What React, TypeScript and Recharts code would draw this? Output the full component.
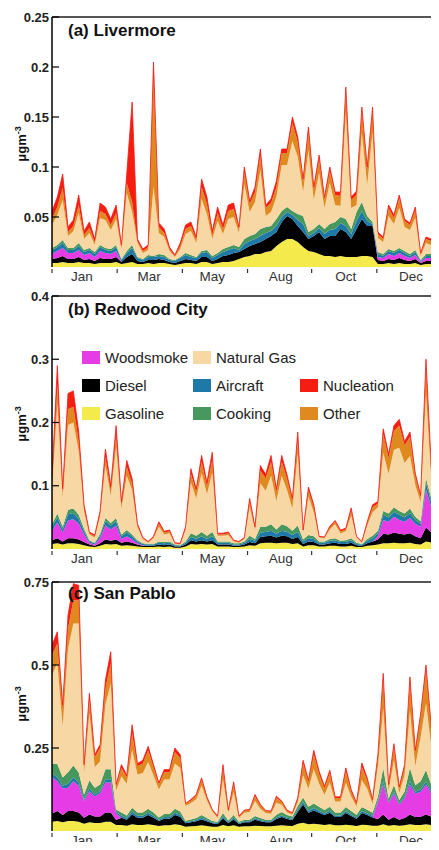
import { AreaChart, Area, XAxis, YAxis, ReferenceLine } from "recharts";

const FONT = '"Liberation Sans", Arial, Helvetica, sans-serif';

// day of year for every sample (5-day steps)
const DAYS = [0,5,10,15,20,25,30,35,40,45,50,55,60,65,70,75,80,85,90,95,100,105,110,115,120,125,130,135,140,145,150,155,160,165,170,175,180,185,190,195,200,205,210,215,220,225,230,235,240,245,250,255,260,265,270,275,280,285,290,295,300,305,310,315,320,325,330,335,340,345,350,355,360,365];

const MONTH_LABELS = ["Jan", "Mar", "May", "Aug", "Oct", "Dec"];
const MONTH_LABEL_DAYS = [28, 91, 150, 214, 275, 336];
const TICK_MARK_DAYS = [0, 61, 122, 183, 243, 304, 365];
const X_TICKS = [...TICK_MARK_DAYS, ...MONTH_LABEL_DAYS].sort((a, b) => a - b);

// stacked from the bottom up
const SOURCES = [
  { key: "gasoline", name: "Gasoline", color: "#f4ea4c" },
  { key: "diesel", name: "Diesel", color: "#000000" },
  { key: "woodsmoke", name: "Woodsmoke", color: "#e63ce6" },
  { key: "aircraft", name: "Aircraft", color: "#1f79a8" },
  { key: "cooking", name: "Cooking", color: "#46985f" },
  { key: "naturalGas", name: "Natural Gas", color: "#f7d7a3" },
  { key: "other", name: "Other", color: "#de8a1f" },
  { key: "nucleation", name: "Nucleation", color: "#f51d12" },
];

const LEGEND_ROWS = [
  ["woodsmoke", "naturalGas", null],
  ["diesel", "aircraft", "nucleation"],
  ["gasoline", "cooking", "other"],
];

// values in ng/m3 (axis shows ug/m3)
const A_TICKS = [50, 100, 150, 200, 250];
const B_TICKS = [100, 200, 300, 400];
const C_TICKS = [250, 500, 750];

// (a) Livermore
const A_GASOLINE = [4,4,5,4,4,5,4,4,3,4,4,4,5,
  3,4,5,3,3,4,3,4,4,3,2,3,4,4,3,5,5,3,4,5,5,6,
  8,10,11,13,13,15,16,21,25,28,28,25,20,16,15,13,11,11,10,11,10,10,10,11,11,10,
  3,3,4,3,4,3,3,4,2,3,3,4,3];
const A_DIESEL = [4,5,6,4,4,5,3,4,3,5,4,4,5,
  2,6,8,3,2,3,4,4,3,2,2,3,4,3,3,5,5,3,4,6,7,8,
  7,8,10,10,12,13,15,14,20,23,20,16,15,12,16,22,17,20,21,27,25,18,28,37,30,31,
  4,3,4,4,5,4,3,4,2,3,3,4,3];
const A_WOODSMOKE = [5,7,8,6,6,7,5,6,4,7,6,5,6,
  0,0,0,0,0,0,0,0,0,0,0,0,0,0,0,0,0,0,0,0,0,0,0,0,
  0,0,0,0,0,0,0,0,0,0,0,0,0,0,0,0,0,0,0,0,0,0,0,0,
  3,3,5,4,5,4,3,4,1,3,3,5,3];
const A_AIRCRAFT = [4,4,5,3,3,4,3,3,3,4,3,3,4,
  2,4,6,3,2,3,3,3,3,2,2,3,4,3,3,4,5,3,4,4,5,5,
  2,5,5,5,6,6,5,6,5,4,4,6,8,3,3,4,5,6,7,6,6,5,8,8,5,2,
  3,2,3,3,3,3,2,3,1,2,2,3,2];
const A_COOKING = [2,2,3,2,2,3,2,2,2,2,2,2,2,
  1,2,3,1,1,2,1,2,2,1,1,1,2,2,1,2,2,2,2,3,3,3,
  3,5,5,5,7,6,5,7,6,5,4,6,8,4,4,4,5,6,7,6,7,5,9,9,5,2,
  2,2,2,2,2,2,2,2,1,2,2,2,2];
const A_NATURAL_GAS = [23,30,40,12,17,30,11,15,7,27,28,19,26,
  10,58,33,14,6,5,69,21,18,8,3,8,19,24,14,52,36,17,32,15,28,28,
  14,55,24,32,59,11,14,22,46,42,70,57,24,82,29,51,21,41,17,11,106,21,7,69,31,90,
  14,12,33,27,40,24,24,32,4,11,9,44,20];
const A_OTHER = [6,8,12,4,5,8,4,5,3,7,6,5,6,
  2,10,10,2,2,3,110,6,4,2,1,3,5,5,3,12,10,4,8,5,8,8,
  4,12,8,10,15,8,9,10,12,12,18,15,10,18,10,14,8,12,10,10,22,8,10,22,14,22,
  4,3,8,6,10,6,5,8,2,4,4,10,5];
const A_NUCLEATION = [8,10,14,5,6,10,4,6,3,8,7,6,8,
  2,10,100,2,2,2,15,4,4,2,1,3,4,4,3,8,7,4,6,4,6,6,
  2,5,3,5,6,3,4,6,4,4,6,5,3,5,3,4,3,4,3,4,4,3,4,4,4,3,
  2,2,3,3,3,2,2,3,1,2,2,4,2];

// (b) Redwood City
const B_GASOLINE = [8,9,7,9,9,8,6,4,3,5,8,7,8,
  5,6,5,4,3,3,3,4,3,4,2,2,4,
  8,7,8,7,8,4,4,4,3,3,4,6,5,
  9,10,10,9,10,10,8,9,4,
  6,6,4,4,5,5,4,4,5,3,3,5,6,
  7,9,9,10,9,9,10,8,7,12,10,14,10];
const B_DIESEL = [6,8,5,8,8,7,5,3,2,4,7,6,7,
  5,6,5,3,2,2,2,3,3,3,2,2,3,
  6,5,6,5,6,3,3,3,2,2,3,5,4,
  10,10,11,9,11,10,8,10,4,
  6,5,3,3,4,5,4,4,5,3,2,4,6,
  8,15,14,16,15,14,15,12,10,22,16,28,18];
const B_WOODSMOKE = [15,25,14,28,30,25,12,3,2,8,22,18,22,
  6,8,5,2,1,0,0,0,0,0,0,0,0,
  0,0,0,0,0,0,0,0,0,0,0,0,0,0,0,0,0,0,0,0,0,0,0,0,0,0,0,0,0,0,0,0,0,0,0,
  5,22,20,25,22,20,24,20,18,60,40,80,50];
const B_AIRCRAFT = [6,8,5,10,10,8,5,2,2,4,7,6,7,
  4,6,5,3,2,2,2,3,3,3,2,1,3,
  5,4,6,4,6,3,3,3,2,2,3,5,4,
  7,7,8,6,8,7,6,8,4,
  5,5,3,3,4,4,3,3,4,2,2,4,5,
  5,8,7,8,8,7,8,6,5,10,8,12,8];
const B_COOKING = [4,6,4,7,7,6,4,2,1,3,5,4,5,
  3,4,3,2,1,1,1,2,2,2,1,1,2,
  6,5,7,5,7,2,2,2,2,2,2,5,3,
  9,8,10,7,10,9,7,10,3,
  5,4,2,2,3,3,2,3,3,2,1,3,4,
  4,6,6,7,6,6,7,5,4,8,6,10,6];
const B_NATURAL_GAS = [55,174,46,134,136,101,27,9,8,27,83,43,113,
  41,86,70,20,7,2,9,23,12,13,1,1,18,
  80,59,93,66,94,9,9,10,3,1,4,46,14,
  69,57,77,45,77,57,35,114,11,
  61,38,6,5,15,22,12,14,36,8,2,21,37,
  37,92,63,91,100,80,83,50,30,134,30,196,37];
const B_OTHER = [10,30,8,25,25,15,6,2,2,5,14,8,18,
  6,14,10,3,1,1,2,5,3,3,1,1,3,
  14,10,18,12,20,2,2,3,1,1,1,8,3,
  20,20,22,14,22,18,12,22,2,
  10,8,1,1,3,4,3,3,8,1,1,4,8,
  6,30,25,30,35,28,30,15,8,40,15,50,15];
const B_NUCLEATION = [10,30,6,25,25,15,5,2,2,4,12,8,15,
  5,10,8,3,1,1,1,3,2,2,1,1,2,
  8,5,10,6,12,2,2,2,1,1,1,5,2,
  8,6,10,5,10,6,4,12,2,
  5,4,1,1,2,2,2,2,4,1,1,2,4,
  3,8,6,8,10,6,8,4,3,14,5,20,6];

// (c) San Pablo
const C_GASOLINE = [28,30,26,30,30,28,22,26,24,24,28,28,18,
  18,16,20,18,18,20,18,15,17,17,20,18,13,14,15,17,15,13,
  13,18,14,17,13,14,14,16,15,14,14,16,17,16,15,22,25,20,22,20,18,20,17,17,19,17,15,19,18,16,
  16,20,16,18,16,17,20,18,18,20,18,20,18];
const C_DIESEL = [25,30,22,30,30,28,18,24,20,20,28,28,15,
  22,18,30,22,22,28,22,15,20,20,28,25,10,12,14,18,14,10,
  8,20,10,18,8,12,12,18,14,12,12,20,25,20,18,35,55,35,40,35,30,35,25,25,35,28,22,35,30,25,
  20,30,18,24,18,22,30,24,25,30,25,32,25];
const C_WOODSMOKE = [110,90,80,70,90,80,50,70,60,70,90,90,20,
  0,0,0,0,0,0,0,0,0,0,0,0,0,0,0,0,0,0,0,0,0,0,0,0,
  0,0,0,0,0,0,0,0,0,0,0,0,0,0,0,0,0,0,0,0,0,0,0,0,
  50,90,50,70,45,60,90,70,75,90,70,95,70];
const C_AIRCRAFT = [10,12,8,12,12,10,5,8,6,6,10,10,4,
  6,5,8,6,6,7,6,4,5,5,7,6,3,3,4,5,4,3,
  3,6,3,5,3,3,3,4,4,3,3,5,5,4,4,6,7,6,7,6,5,6,5,5,6,5,4,6,5,5,
  5,10,4,6,4,5,10,6,7,9,6,10,6];
const C_COOKING = [30,40,25,35,35,30,15,25,20,20,30,30,8,
  10,8,12,10,10,12,10,7,9,9,12,10,5,6,6,8,6,4,
  4,10,5,8,4,5,5,7,6,5,5,8,10,8,7,12,14,12,14,12,10,12,9,9,12,10,8,12,11,9,
  12,40,10,20,10,15,40,20,25,35,20,40,20];
const C_NATURAL_GAS = [267,303,154,373,428,449,65,202,62,70,194,259,56,
  109,95,175,114,119,141,111,84,104,104,136,131,44,49,57,88,53,29,
  11,101,23,69,11,21,23,45,28,20,18,36,22,8,5,11,67,54,103,69,46,72,33,33,73,44,25,81,63,26,
  91,180,23,75,21,50,172,57,133,201,116,208,103];
const C_OTHER = [60,60,50,60,70,70,20,40,30,40,50,60,15,
  25,20,50,25,28,35,25,15,22,22,35,30,6,8,10,18,8,4,
  4,35,6,25,4,6,6,15,10,6,6,15,8,5,4,10,35,20,45,30,20,30,10,10,35,15,8,40,25,10,
  30,90,15,40,15,25,90,40,60,100,50,120,50];
const C_NUCLEATION = [30,35,15,40,50,45,5,20,8,10,25,35,4,
  10,6,25,8,10,12,8,5,8,8,12,10,2,3,4,6,3,2,
  2,10,2,6,2,2,2,5,3,2,2,5,3,2,2,4,10,6,12,8,6,8,4,4,10,6,3,12,8,4,
  6,15,4,10,4,6,12,8,10,15,8,20,8];

const PANELS = [
  {
    title: "(a) Livermore", top: 17, height: 250, yMax: 250, ticks: A_TICKS, unitY: 144, titleTop: 22,
    series: { gasoline: A_GASOLINE, diesel: A_DIESEL, woodsmoke: A_WOODSMOKE, aircraft: A_AIRCRAFT, cooking: A_COOKING, naturalGas: A_NATURAL_GAS, other: A_OTHER, nucleation: A_NUCLEATION },
  },
  {
    title: "(b) Redwood City", top: 296, height: 253, yMax: 400, ticks: B_TICKS, unitY: 424, titleTop: 301,
    series: { gasoline: B_GASOLINE, diesel: B_DIESEL, woodsmoke: B_WOODSMOKE, aircraft: B_AIRCRAFT, cooking: B_COOKING, naturalGas: B_NATURAL_GAS, other: B_OTHER, nucleation: B_NUCLEATION },
  },
  {
    title: "(c) San Pablo", top: 582, height: 249, yMax: 750, ticks: C_TICKS, unitY: 704, titleTop: 585,
    series: { gasoline: C_GASOLINE, diesel: C_DIESEL, woodsmoke: C_WOODSMOKE, aircraft: C_AIRCRAFT, cooking: C_COOKING, naturalGas: C_NATURAL_GAS, other: C_OTHER, nucleation: C_NUCLEATION },
  },
];

const TOP_PAD = 12;

function XTick(props: any) {
  const { x, y, payload } = props;
  const idx = MONTH_LABEL_DAYS.indexOf(payload.value);
  if (idx >= 0) {
    return (
      <text x={x} y={y + 14} textAnchor="middle" fontSize={13.5} fontFamily={FONT} fill="#333">
        {MONTH_LABELS[idx]}
      </text>
    );
  }
  return <line x1={x} x2={x} y1={y + 2} y2={y + 6} stroke="#333" strokeWidth={1.2} />;
}

function YTick(props: any) {
  const { x, y, payload } = props;
  return (
    <g>
      <line x1={x + 2} x2={x + 9} y1={y} y2={y} stroke="#000" strokeWidth={1.2} />
      <text x={x - 1} y={y} dy="0.35em" textAnchor="end" fontSize={13} fontWeight="bold" fontFamily={FONT} fill="#222">
        {String(payload.value / 1000)}
      </text>
    </g>
  );
}

function Panel({ p }: { p: (typeof PANELS)[number] }) {
  const rows = DAYS.map((day, i) => {
    const row: Record<string, number> = { day };
    SOURCES.forEach((s) => {
      row[s.key] = (p.series as any)[s.key][i];
    });
    return row;
  });

  return (
    <>
      <div style={{ position: "absolute", left: 0, top: p.top - TOP_PAD }}>
        <AreaChart width={450} height={p.height + TOP_PAD + 25} data={rows} margin={{ top: TOP_PAD, right: 8, bottom: 0, left: 0 }}>
          <XAxis
            dataKey="day"
            type="number"
            domain={[0, 365]}
            ticks={X_TICKS}
            interval={0}
            axisLine={false}
            tickLine={false}
            tickSize={0}
            tickMargin={0}
            height={25}
            tick={XTick}
            allowDataOverflow
          />
          <YAxis
            type="number"
            domain={[0, p.yMax]}
            ticks={p.ticks}
            interval={0}
            width={52}
            axisLine={{ stroke: "#000", strokeWidth: 1.5 }}
            tickLine={false}
            tickSize={0}
            tickMargin={2}
            tick={YTick}
            allowDataOverflow
          />
          {SOURCES.map((s) => (
            <Area
              key={s.key}
              type="linear"
              dataKey={s.key}
              stackId="src"
              fill={s.color}
              fillOpacity={1}
              stroke={s.key === "nucleation" ? s.color : "none"}
              strokeWidth={0.8}
              dot={false}
              activeDot={false}
              isAnimationActive={false}
            />
          ))}
          <ReferenceLine y={p.yMax} stroke="#555" strokeWidth={2} />
        </AreaChart>
      </div>
      <div
        style={{
          position: "absolute", left: 68, top: p.titleTop, fontFamily: FONT, fontWeight: "bold",
          fontSize: 17, lineHeight: "17px", color: "#111", whiteSpace: "nowrap",
        }}
      >
        {p.title}
      </div>
      <div
        style={{
          position: "absolute", left: 20, top: p.unitY, transform: "translate(-50%, -50%) rotate(-90deg)",
          fontFamily: FONT, fontWeight: "bold", fontSize: 13, lineHeight: "13px", color: "#111", whiteSpace: "nowrap",
        }}
      >
        μgm<sup style={{ fontSize: 9 }}>-3</sup>
      </div>
    </>
  );
}

function Legend() {
  const cols = [82, 193, 300];
  const rowsY = [357, 385, 413];
  return (
    <>
      {LEGEND_ROWS.map((row, r) =>
        row.map((key, c) => {
          if (!key) return null;
          const src = SOURCES.find((s) => s.key === key)!;
          return (
            <div key={key} style={{ position: "absolute", left: cols[c], top: rowsY[r] - 9, height: 18, display: "flex", alignItems: "center" }}>
              <div style={{ width: 18, height: 13, background: src.color, marginRight: 5 }} />
              <span style={{ fontFamily: FONT, fontSize: 15, color: "#222", whiteSpace: "nowrap" }}>{src.name}</span>
            </div>
          );
        })
      )}
    </>
  );
}

export default function App() {
  return (
    <div style={{ position: "relative", width: 439, height: 850, margin: -8, overflow: "hidden", background: "#fff" }}>
      {PANELS.map((p) => (
        <Panel key={p.title} p={p} />
      ))}
      <Legend />
    </div>
  );
}
